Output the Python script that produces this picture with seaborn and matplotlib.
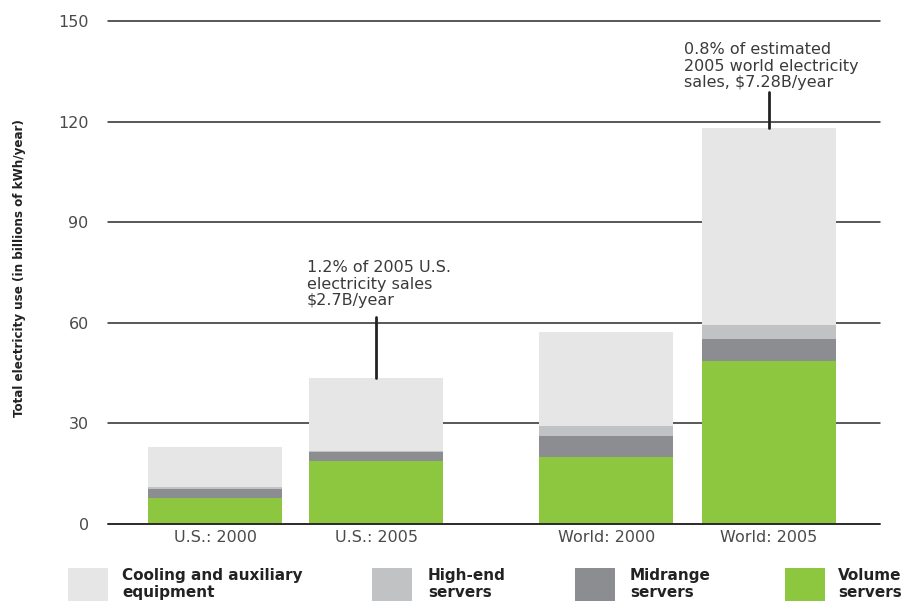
import matplotlib
matplotlib.use("Agg")
import matplotlib.pyplot as plt
from matplotlib.patches import Rectangle
import numpy as np
import pandas as pd
import seaborn as sns

# Data (billions of kWh/year)
categories = ["U.S.: 2000", "U.S.: 2005", "World: 2000", "World: 2005"]
positions = [0.0, 1.0, 2.43, 3.44]
volume = [7.8, 18.7, 20.1, 48.6]
midrange = [2.6, 2.7, 6.1, 6.5]
high_end = [0.6, 0.4, 3.0, 4.2]
cooling = [12.0, 21.8, 28.2, 58.8]

series_names = ["Cooling and auxiliary\nequipment", "High-end\nservers",
                "Midrange\nservers", "Volume\nservers"]
colors = {"cool": "#e6e6e6", "high": "#c0c2c4", "mid": "#8c8d90", "vol": "#8dc63f"}

df = pd.DataFrame({"pos": positions, "cat": categories, "volume": volume,
                   "midrange": midrange, "high_end": high_end, "cooling": cooling})
df["c_vol"] = df["volume"]
df["c_mid"] = df["c_vol"] + df["midrange"]
df["c_high"] = df["c_mid"] + df["high_end"]
df["c_total"] = df["c_high"] + df["cooling"]

sns.set_style("white")
plt.rcParams["font.family"] = ["DejaVu Sans"]

fig = plt.figure(figsize=(9.09, 6.03), dpi=100)
ax = fig.add_axes([0.119, 0.131, 0.849, 0.834])

for col, c in [("c_total", colors["cool"]), ("c_high", colors["high"]),
               ("c_mid", colors["mid"]), ("c_vol", colors["vol"])]:
    sns.barplot(data=df, x="pos", y=col, color=c, width=0.83, native_scale=True,
                errorbar=None, ax=ax, linewidth=0, saturation=1, zorder=3)

ax.set_ylim(0, 150)
ax.set_xlim(-0.664, 3.44 + 0.69)
ax.set_yticks([0, 30, 60, 90, 120, 150])
ax.set_yticklabels(["0", "30", "60", "90", "120", "150"])
ax.set_xticks(positions)
ax.set_xticklabels(categories)
ax.tick_params(axis="both", length=0, labelsize=11.5, labelcolor="#4a4a4a")
ax.tick_params(axis="y", pad=14)
ax.tick_params(axis="x", pad=4)
ax.set_axisbelow(True)
# horizontal rules at each tick, drawn behind the bars
for yv in [30, 60, 90, 120, 150]:
    ax.axhline(yv, color="#2a2a2a", linewidth=1.1, zorder=0, clip_on=False)
ax.axhline(0, color="#2a2a2a", linewidth=1.4, zorder=5, clip_on=False)
for s in ax.spines.values():
    s.set_visible(False)
ax.set_xlabel("")
ax.set_ylabel("")

fig.text(0.021, 0.555, "Total electricity use (in billions of kWh/year)",
         rotation=90, ha="center", va="center", fontsize=9.5, fontweight="bold",
         fontstretch="condensed", family=["Liberation Sans Narrow", "DejaVu Sans"],
         color="#222222")

# Callouts above the 2005 bars
ax.plot([positions[1], positions[1]], [df["c_total"][1], 61.7], color="#222222",
        linewidth=2, zorder=4)
ax.text(positions[1] - 0.43, 64.5, "1.2% of 2005 U.S.\nelectricity sales\n$2.7B/year",
        ha="left", va="bottom", fontsize=11.5, color="#3a3a3a", linespacing=1.1)
ax.plot([positions[3], positions[3]], [df["c_total"][3], 128.8], color="#222222",
        linewidth=2, zorder=4)
ax.text(positions[3] - 0.53, 129.5, "0.8% of estimated\n2005 world electricity\nsales, $7.28B/year",
        ha="left", va="bottom", fontsize=11.5, color="#3a3a3a", linespacing=1.1,
        bbox=dict(facecolor="white", edgecolor="none", pad=1))

# Legend along the bottom
legend_items = [(colors["cool"], series_names[0], 68, 122),
                (colors["high"], series_names[1], 372, 428),
                (colors["mid"], series_names[2], 575, 630),
                (colors["vol"], series_names[3], 785, 838)]
W, H = 909, 603
for c, label, px, tx in legend_items:
    fig.patches.append(Rectangle((px / W, 1 - 601 / H), 40 / W, 33 / H,
                                 transform=fig.transFigure, facecolor=c,
                                 edgecolor="none"))
    fig.text(tx / W, 1 - 584 / H, label, ha="left", va="center", fontsize=11,
             fontweight="bold", family=["Liberation Sans Narrow", "DejaVu Sans"],
             color="#222222", linespacing=1.15)

fig.savefig("out.png", dpi=100, facecolor="white")
